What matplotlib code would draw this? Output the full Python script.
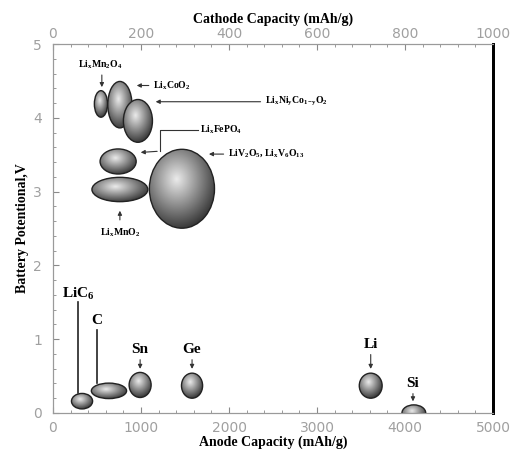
import numpy as np
import matplotlib.pyplot as plt
from matplotlib.patches import Ellipse

plt.rcParams['mathtext.fontset'] = 'custom'
plt.rcParams['mathtext.rm'] = 'Liberation Serif'
plt.rcParams['mathtext.bf'] = 'Liberation Serif:bold'

# cathode materials: capacity (mAh/g), voltage (V), ellipse width / height
cath_names = [r"Li$_\mathbf{x}$Mn$_\mathbf{2}$O$_\mathbf{4}$",
              r"Li$_\mathbf{x}$CoO$_\mathbf{2}$",
              r"Li$_\mathbf{x}$Ni$_\mathbf{y}$Co$_\mathbf{1\!-\!y}$O$_\mathbf{2}$",
              r"Li$_\mathbf{x}$FePO$_\mathbf{4}$",
              r"Li$_\mathbf{x}$MnO$_\mathbf{2}$",
              r"LiV$_\mathbf{2}$O$_\mathbf{5}$, Li$_\mathbf{x}$V$_\mathbf{6}$O$_\mathbf{13}$"]
cath_cap = [109, 152, 193, 148, 152, 293]
cath_volt = [4.19, 4.18, 3.96, 3.41, 3.03, 3.04]
cath_w = [30, 55, 66, 82, 127, 148]
cath_h = [0.36, 0.63, 0.58, 0.34, 0.33, 1.07]

# anode materials
anode_names = [r"LiC$_\mathbf{6}$", "C", "Sn", "Ge", "Li", "Si"]
anode_cap = [330, 636, 990, 1580, 3610, 4100]
anode_volt = [0.16, 0.30, 0.38, 0.37, 0.37, 0.0]
anode_w = [240, 400, 250, 240, 260, 270]
anode_h = [0.21, 0.21, 0.34, 0.34, 0.34, 0.22]

fig = plt.figure(figsize=(5.12, 4.51), dpi=100)
ax = fig.add_axes([0.1035, 0.0843, 0.8595, 0.8177])
ax2 = ax.twiny()

# shaded "sphere" image used to fill every ellipse
gy, gx = np.mgrid[0:1:200j, 0:1:200j]
rr = np.sqrt((gx - 0.42) ** 2 + (gy - 0.38) ** 2)
shade = np.clip(0.92 - 1.1 * rr, 0.15, 1.0)


def blob(axis, x, y, w, h, z=3):
    e = Ellipse((x, y), w, h, facecolor='none', edgecolor='#222222', lw=1.0, zorder=z + 0.5)
    axis.add_patch(e)
    im = axis.imshow(shade, cmap='gray', vmin=0, vmax=1, origin='upper',
                     extent=(x - w / 2, x + w / 2, y - h / 2, y + h / 2),
                     aspect='auto', zorder=z, interpolation='bilinear')
    im.set_clip_path(e)


for x, y, w, h in zip(anode_cap, anode_volt, anode_w, anode_h):
    blob(ax, x, y, w, h)
for i, (x, y, w, h) in enumerate(zip(cath_cap, cath_volt, cath_w, cath_h)):
    blob(ax2, x, y, w, h, z=3 + i)

ax.set_xlim(0, 5000)
ax.set_ylim(0, 5)
ax2.set_xlim(0, 1000)

serif = 'Liberation Serif'
arr = dict(arrowstyle='-|>', color='#333333', lw=0.8, mutation_scale=6)

# anode labels
big = dict(fontsize=11, fontweight='bold', family=serif, ha='center', va='center', zorder=12)
ax.text(284, 1.62, anode_names[0], **big)
ax.plot([284, 284], [1.51, 0.27], color='#222222', lw=1.2)
ax.text(500, 1.25, anode_names[1], **big)
ax.plot([500, 500], [1.12, 0.41], color='#222222', lw=1.2)
for name, x, y in [(anode_names[2], 990, 0.86), (anode_names[3], 1580, 0.86),
                   (anode_names[4], 3610, 0.93)]:
    ax.text(x, y, name, **big)
    ax.annotate('', xy=(x, 0.56), xytext=(x, y - 0.1), arrowprops=arr)
ax.text(4090, 0.40, anode_names[5], **big)
ax.annotate('', xy=(4090, 0.12), xytext=(4090, 0.30), arrowprops=arr)

# cathode labels
small = dict(fontsize=7, fontweight='bold', family=serif, va='center', zorder=12)
ax2.text(107, 4.73, cath_names[0], ha='center', **small)
ax2.annotate('', xy=(111, 4.38), xytext=(111, 4.62), arrowprops=arr)
ax2.text(227, 4.44, cath_names[1], ha='left', **small)
ax2.annotate('', xy=(184, 4.44), xytext=(224, 4.44), arrowprops=arr)
ax2.text(482, 4.22, cath_names[2], ha='left', **small)
ax2.annotate('', xy=(227, 4.22), xytext=(478, 4.22), arrowprops=arr)
ax2.text(334, 3.84, cath_names[3], ha='left', **small)
ax2.plot([330, 243, 243], [3.84, 3.84, 3.55], color='#333333', lw=0.8)
ax2.annotate('', xy=(193, 3.53), xytext=(243, 3.55), arrowprops=arr)
ax2.text(398, 3.51, cath_names[5], ha='left', **small)
ax2.annotate('', xy=(348, 3.51), xytext=(394, 3.51), arrowprops=arr)
ax2.text(152, 2.45, cath_names[4], ha='center', **small)
ax2.annotate('', xy=(152, 2.78), xytext=(152, 2.58), arrowprops=arr)

# axes styling
tick_col = '#8a8a8a'
ax.set_xticks([0, 1000, 2000, 3000, 4000, 5000])
ax.set_xticks(np.arange(0, 5001, 200), minor=True)
ax.set_yticks([0, 1, 2, 3, 4, 5])
ax.set_yticks(np.arange(0, 5.01, 0.2), minor=True)
ax2.set_xticks([0, 200, 400, 600, 800, 1000])
ax2.set_xticks(np.arange(0, 1001, 40), minor=True)
for a in (ax, ax2):
    a.tick_params(which='both', direction='in', colors=tick_col, labelsize=10,
                  labelcolor='#a0a0a0')
    a.tick_params(which='major', length=4)
    a.tick_params(which='minor', length=2)
    for s in ('left', 'bottom', 'top'):
        a.spines[s].set_color('#9a9a9a')
    a.spines['right'].set_color('black')
    a.spines['right'].set_linewidth(2)
ax.tick_params(axis='x', pad=6)
ax.tick_params(axis='y', right=False, pad=8)
ax2.tick_params(axis='x', pad=2)

lab = dict(fontsize=10, fontweight='bold', family=serif)
ax.set_xlabel('Anode Capacity (mAh/g)', labelpad=0, **lab)
ax2.set_xlabel('Cathode Capacity (mAh/g)', labelpad=3, **lab)
ax.set_ylabel('Battery Potentional,V', labelpad=3, **lab)

fig.savefig('out.png', dpi=100)
